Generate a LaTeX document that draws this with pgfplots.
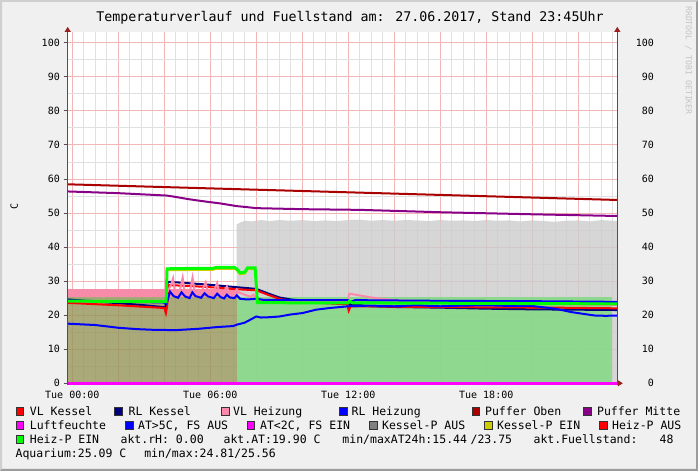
\documentclass[border=0pt]{standalone}
\usepackage{fontspec}
\setmainfont{DejaVu Sans Mono}
\usepackage{pgfplots}
\pgfplotsset{compat=1.18}
\usetikzlibrary{arrows.meta}
\definecolor{bgc}{HTML}{F0F0F0}
\definecolor{cfl}{HTML}{CFCFCF}
\definecolor{cfd}{HTML}{9C9C9C}
\definecolor{mgrid}{HTML}{F3B6B6}
\definecolor{mingrid}{HTML}{E0E0E0}
\definecolor{axc}{HTML}{505050}
\definecolor{arrc}{HTML}{9A1F1F}
\definecolor{cVLK}{HTML}{FF0000}
\definecolor{cRLK}{HTML}{000080}
\definecolor{cVLH}{HTML}{FF88AA}
\definecolor{cBand}{HTML}{F68BAA}
\definecolor{cRLH}{HTML}{0000FF}
\definecolor{cPO}{HTML}{AA0000}
\definecolor{cPM}{HTML}{880088}
\definecolor{cLF}{HTML}{FF00FF}
\definecolor{cAT}{HTML}{0000FF}
\definecolor{cKA}{HTML}{808080}
\definecolor{cKE}{HTML}{CCCC00}
\definecolor{cHA}{HTML}{FF0000}
\definecolor{cHE}{HTML}{00FF00}
\definecolor{aGray}{RGB}{204,204,204}
\definecolor{aOlive}{RGB}{149,148,89}
\definecolor{aGreen}{RGB}{126,217,126}
\definecolor{wm}{HTML}{C4C4C4}
\newcommand\tfont{\fontsize{13.3bp}{16bp}\selectfont}
\newcommand\lfont{\fontsize{11.5bp}{14bp}\selectfont}
\newcommand\kfont{\fontsize{10bp}{12bp}\selectfont}
\newcommand\lsq[3]{\filldraw[fill=#3, draw=black!80, line width=0.6bp] (#1,471-#2-4) rectangle (#1+7.5,471-#2+4);}
\newcommand\ltx[3]{\node[font=\lfont, anchor=base west, inner sep=0pt] at (#1-0.6,471-#2-4.2) {#3};}
\begin{document}
\begin{tikzpicture}[x=1bp,y=1bp]
\useasboundingbox (0,0) rectangle (698,471);
\fill[bgc] (0,0) rectangle (698,471);
\fill[cfl] (0,0) -- (0,471) -- (698,471) -- (696,469) -- (2,469) -- (2,2) -- cycle;
\fill[cfd] (698,471) -- (698,0) -- (0,0) -- (2,2) -- (696,2) -- (696,469) -- cycle;
\begin{axis}[
  scale only axis, width=549.6bp, height=351.3bp,
  at={(67.7bp,87.7bp)}, anchor=south west,
  xmin=-0.2, xmax=23.7, ymin=0, ymax=103.1,
  axis background/.style={fill=white},
  axis line style={draw=none},
  clip=false,
  xtick={0,2,...,22},
  xticklabels={Tue 00:00,,,Tue 06:00,,,Tue 12:00,,,Tue 18:00,,},
  minor xtick={0,0.5,...,23.5},
  ytick={0,10,...,100},
  minor ytick={5,15,...,95},
  grid=both,
  major grid style={mgrid, line width=0.6bp},
  minor grid style={mingrid, line width=0.6bp},
  xtick pos=lower, ytick pos=left,
  tick align=outside,
  major tick length=4bp, minor tick length=0pt,
  xtick style={draw=none},
  ytick style={axc, line width=0.6bp},
  tick label style={font=\kfont},
  /pgf/number format/assume math mode=true,
  yticklabel style={anchor=east, inner sep=0pt, xshift=-3.7bp},
  xticklabel style={anchor=north, inner sep=0pt, yshift=-3.2bp},
]
% Kessel-P AUS area (gray)
\addplot[draw=none, fill=aGray, fill opacity=0.8] coordinates {(7.15,46.6)(7.3,47.2)(7.5,47.7)(7.8,47.5)(8.2,47.9)(8.6,47.6)(9.0,47.9)(9.5,47.7)(10.0,47.9)(10.5,47.6)(11.0,47.8)(11.5,47.6)(12.0,47.9)(12.5,48.0)(13.0,47.7)(13.5,47.9)(14.0,47.7)(14.5,47.9)(15.0,47.8)(15.5,47.6)(16.0,47.9)(16.5,47.7)(17.0,47.8)(17.5,47.6)(18.0,47.9)(18.5,47.7)(19.0,47.8)(19.5,47.5)(20.0,47.8)(20.5,47.6)(21.0,47.4)(21.5,47.7)(22.0,47.8)(22.5,47.5)(23.0,47.9)(23.7,47.6)} \closedcycle;
% Kessel-P EIN area (olive)
\addplot[draw=none, fill=aOlive, fill opacity=0.8] coordinates {(-0.2,25.2)(7.15,25.2)} \closedcycle;
% Heiz-P EIN area (light green)
\addplot[draw=none, fill=aGreen, fill opacity=0.8] coordinates {(7.15,25.2)(23.45,25.2)} \closedcycle;
% VL Heizung band
\addplot[cBand, line width=7.8bp] coordinates {(-0.2,26.45)(7.2,26.45)};
% RL Kessel
\addplot[cRLK, line width=2bp] coordinates {(-0.2,24.6)(1,24.0)(2,23.5)(3,23.0)(4.05,22.3)(4.15,29.8)(5,29.4)(6,28.9)(7.15,28.2)(8.0,27.7)(8.5,26.4)(9.0,25.2)(9.5,24.6)(10,24.3)(11,23.8)(12,23.3)(13,22.6)(14,22.4)(16,22.2)(18,21.9)(20,21.7)(22,21.6)(23.7,21.5)};
% VL Kessel
\addplot[cVLK, line width=2bp] coordinates {(-0.2,23.6)(2,22.9)(4.0,22.1)(4.07,20.6)(4.12,22.5)(4.2,28.8)(5,28.6)(6,28.2)(7.15,27.6)(8.0,27.3)(8.5,26.0)(9,24.8)(9.5,24.2)(10,23.9)(11,23.5)(11.95,23.2)(12.02,21.3)(12.1,22.6)(13,22.6)(15,22.4)(18,22.3)(21,22.2)(23.7,22.0)};
% VL Heizung line
\addplot[cVLH, line width=2bp] coordinates {(4.05,26.3)(4.15,27.0)(4.3,29.0)(4.38,30.8)(4.46,27.0)(4.65,26.4)(4.8,31.0)(4.88,27.2)(5.1,26.4)(5.23,31.0)(5.31,27.2)(5.6,26.6)(5.8,29.6)(5.88,27.0)(6.12,26.5)(6.3,29.4)(6.38,26.8)(6.56,26.4)(6.72,28.4)(6.8,26.6)(7.0,26.3)(7.15,27.6)(7.25,26.6)(7.5,26.0)(7.75,25.4)(7.88,26.0)(8.0,24.5)(8.3,24.0)(10,23.9)(11.95,23.8)(12.05,26.3)(13,25.2)(14.1,24.3)(16,23.9)(20,23.3)(23.7,22.9)};
% RL Heizung
\addplot[cRLH, line width=2bp] coordinates {(-0.2,24.3)(2,24.0)(4.0,23.7)(4.08,23.3)(4.15,24.5)(4.25,26.9)(4.4,25.6)(4.6,25.1)(4.75,26.7)(4.9,25.5)(5.1,25.0)(5.22,26.7)(5.35,25.6)(5.6,25.1)(5.75,26.4)(5.9,25.5)(6.15,25.0)(6.3,26.3)(6.45,25.3)(6.6,24.9)(6.72,26.0)(6.85,25.2)(7.05,25.0)(7.15,25.8)(7.3,24.8)(7.6,24.6)(8.0,24.8)(8.3,24.5)(10,24.4)(12,24.4)(12.05,23.8)(12.3,24.4)(16,24.2)(20,24.1)(23.7,23.9)};
% AT (outdoor)
\addplot[cAT, line width=2bp] coordinates {(-0.2,17.5)(1,17.1)(2,16.3)(2.8,15.9)(3.5,15.7)(4.5,15.6)(5.5,16.0)(6.3,16.5)(7.0,16.8)(7.15,17.2)(7.5,17.8)(8.0,19.6)(8.2,19.3)(8.6,19.4)(9.0,19.6)(9.5,20.2)(10,20.6)(10.6,21.6)(11.2,22.1)(12,22.6)(13,22.8)(14,22.6)(15,22.9)(16,22.6)(17,22.8)(18,22.9)(19,22.7)(20,22.7)(21,21.9)(21.7,20.9)(22.2,20.4)(22.7,19.9)(23.2,19.8)(23.7,19.9)};
% Kessel-P EIN line (yellow, under green)
\addplot[cKE, line width=2bp] coordinates {(4.12,33.2)(6.1,33.3)(6.25,33.6)(7.05,33.6)(7.15,33.2)(7.3,32.0)(7.5,32.2)(7.62,33.5)(7.95,33.5)};
% Heiz-P EIN line (green)
\addplot[cHE, line width=3bp] coordinates {(-0.2,24.1)(4.08,24.0)(4.12,33.6)(5,33.7)(6.1,33.7)(6.25,34.0)(7.05,34.0)(7.15,33.6)(7.3,32.4)(7.5,32.6)(7.62,33.9)(7.95,33.9)(8.05,23.7)(10,23.6)(12,23.6)(12.05,24.1)(12.2,23.6)(16,23.5)(20,23.4)(23.7,23.3)};
% Puffer Oben
\addplot[cPO, line width=2bp] coordinates {(-0.2,58.4)(6,57.2)(12,56.05)(18,54.9)(23.7,53.8)};
% Puffer Mitte
\addplot[cPM, line width=2bp] coordinates {(-0.2,56.3)(2,55.8)(4.1,55.1)(4.4,54.8)(5,54.1)(5.4,53.7)(5.84,53.3)(6.42,52.8)(7.15,52.0)(7.6,51.7)(8.0,51.4)(10,51.1)(12.5,50.9)(16,50.2)(20,49.6)(23.7,49.1)};
% Luftfeuchte
\addplot[cLF, line width=2.5bp] coordinates {(-0.2,0)(23.7,0)};
% axis lines with arrow heads
\draw[axc, line width=1bp, -{Triangle[length=5bp,width=6bp,color=arrc]}] (axis cs:-0.2,-0.6) -- (axis cs:-0.2,104.6);
\draw[axc, line width=1bp, -{Triangle[length=5bp,width=6bp,color=arrc]}] (axis cs:23.7,-0.6) -- (axis cs:23.7,104.6);
\draw[axc, line width=1bp, -{Triangle[length=5bp,width=6bp,color=arrc]}] (axis cs:23.7,0) -- (axis cs:23.94,0);
\end{axis}
\begin{axis}[
  scale only axis, width=549.6bp, height=351.3bp,
  at={(67.7bp,87.7bp)}, anchor=south west,
  xmin=-0.2, xmax=23.7, ymin=0, ymax=103.1,
  axis line style={draw=none},
  xtick=\empty, ytick={0,10,...,100},
  ytick pos=right, yticklabel pos=right,
  major tick length=0pt,
  tick label style={font=\kfont},
  /pgf/number format/assume math mode=true,
  yticklabel style={anchor=east, inner sep=0pt, xshift=36.7bp},
]
\end{axis}
\node[font=\tfont, anchor=base, inner sep=0pt] at (350,449.2) {Temperaturverlauf und Fuellstand am: 27.06.2017, Stand 23:45Uhr};
\node[font=\kfont, rotate=90, inner sep=0pt] at (14.2,264.5) {C};
\node[font=\fontsize{8.2bp}{10bp}\selectfont, text=wm, rotate=-90, inner sep=0pt] at (688.5,410.5) {RRDTOOL / TOBI OETIKER};
% legend row 1
\lsq{16}{411}{cVLK}\ltx{30.3}{411}{VL Kessel}
\lsq{114.4}{411}{cRLK}\ltx{129}{411}{RL Kessel}
\lsq{221.3}{411}{cVLH}\ltx{233.5}{411}{VL Heizung}
\lsq{339.3}{411}{cRLH}\ltx{352}{411}{RL Heizung}
\lsq{472}{411}{cPO}\ltx{485.5}{411}{Puffer Oben}
\lsq{583.7}{411}{cPM}\ltx{597.5}{411}{Puffer Mitte}
% legend row 2
\lsq{16}{425}{cLF}\ltx{30.3}{425}{Luftfeuchte}
\lsq{125.6}{425}{cAT}\ltx{138.5}{425}{AT>5C, FS AUS}
\lsq{247}{425}{cLF}\ltx{260.5}{425}{AT<2C, FS EIN}
\lsq{369.5}{425}{cKA}\ltx{382.5}{425}{Kessel-P AUS}
\lsq{484.4}{425}{cKE}\ltx{497.5}{425}{Kessel-P EIN}
\lsq{599.3}{425}{cHA}\ltx{612.5}{425}{Heiz-P AUS}
% legend row 3
\lsq{16}{439}{cHE}\ltx{30.3}{439}{Heiz-P EIN}
\ltx{121}{439}{akt.rH: 0.00}
\ltx{224}{439}{akt.AT:19.90 C}
\ltx{342.8}{439}{min/maxAT24h:15.44}
\ltx{471}{439}{/23.75}
\ltx{534}{439}{akt.Fuellstand:}
\ltx{660}{439}{48}
% row 4
\ltx{16}{453}{Aquarium:25.09 C}
\ltx{144.7}{453}{min/max:24.81/25.56}
\end{tikzpicture}
\end{document}
